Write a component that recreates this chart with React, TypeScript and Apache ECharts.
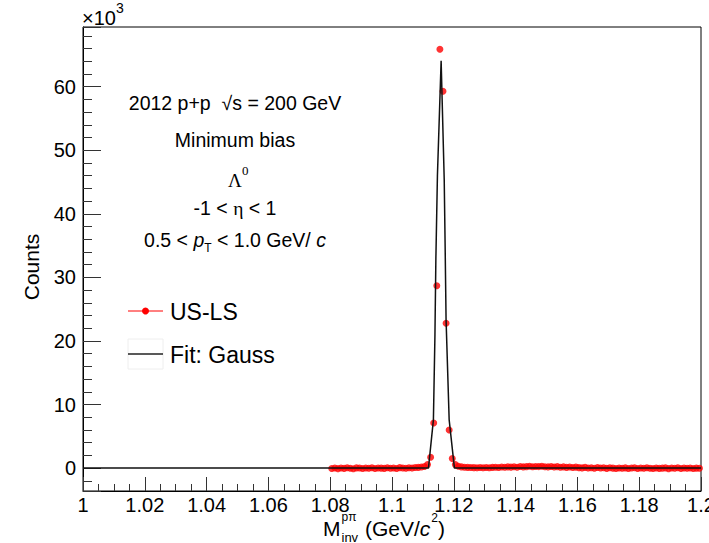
import React, { useEffect, useRef } from 'react';
import * as echarts from 'echarts';

// Histogram binning (US-LS invariant-mass spectrum)
const BIN_START = 1.08;
const BIN_WIDTH = 0.001;
// Counts per bin (120 bins from 1.080 to 1.200)
const usLsCounts: number[] = [
  -50, 30, -80, 20, -40, 60, -20, -90, 40, 10,
  -60, 30, -30, 50, -70, 20, 0, -40, 60, -20,
  30, -50, 80, 10, -30, 60, 20, 90, 120, 180,
  250, 550, 1700, 7100, 28700, 65900, 59300, 22800, 6000, 1500,
  550, 300, 200, 150, 120, 100, 80, 60, 90, 50,
  110, 70, 120, 150, 90, 180, 130, 200, 160, 220,
  140, 250, 190, 230, 280, 210, 260, 240, 300, 220,
  190, 260, 170, 230, 150, 200, 120, 180, 100, 160,
  80, 40, 120, 20, 60, -30, 90, 10, 50, -40,
  70, 0, -60, 30, -20, 40, -50, 10, 60, -70,
  20, -30, 50, -10, -60, 30, -40, 0, 40, -80,
  20, -20, 60, -50, 10, -30, 30, -60, 0, -20,
];

// Gauss fit curve vertices
const fitX: number[] = [1.0, 1.1118, 1.1134, 1.1139, 1.1142, 1.1147, 1.1159, 1.1169, 1.1172, 1.1175, 1.1185, 1.1202, 1.2];
const fitY: number[] = [0, 0, 7600, 21000, 33000, 46000, 64100, 45400, 34800, 23300, 7600, 0, 0];

const X_MIN = 1.0;
const X_MAX = 1.2;
const X_STEP = 0.02;
const Y_MIN = -3600;
const Y_MAX = 69400;

const seriesNames = ['US-LS', 'Fit: Gauss'];

const SANS = '"Liberation Sans", Arial, Helvetica, sans-serif';
const SERIF = '"Liberation Serif", "DejaVu Serif", serif';

type Piece = { t: string; size: number; dy?: number; italic?: boolean; family?: string; dx?: number };

let measureCtx: CanvasRenderingContext2D | null = null;
function measure(p: Piece): number {
  if (!measureCtx) measureCtx = document.createElement('canvas').getContext('2d');
  const ctx = measureCtx!;
  ctx.font = `${p.italic ? 'italic ' : ''}${p.size}px ${p.family || SANS}`;
  return ctx.measureText(p.t).width;
}

function runText(pieces: Piece[], x: number, y: number, align: 'center' | 'left') {
  const widths = pieces.map((p) => measure(p) + (p.dx || 0));
  const total = widths.reduce((a, b) => a + b, 0);
  let cx = align === 'center' ? x - total / 2 : x;
  const out: any[] = [];
  pieces.forEach((p, i) => {
    out.push({
      type: 'text',
      x: cx + (p.dx || 0),
      y: y + (p.dy || 0),
      silent: true,
      style: {
        text: p.t,
        fontSize: p.size,
        fontFamily: p.family || SANS,
        fontStyle: p.italic ? 'italic' : 'normal',
        fill: '#000',
        textAlign: 'left',
        textVerticalAlign: 'middle',
      },
    });
    cx += widths[i];
  });
  return out;
}

function xTitle(x0: number, y: number) {
  const m: Piece = { t: 'M', size: 21 };
  const sup: Piece = { t: 'pπ', size: 12 };
  const sub: Piece = { t: 'inv', size: 13 };
  const x1 = x0 + measure(m) + 1;
  const x2 = x1 + Math.max(measure(sup), measure(sub)) + 1;
  return [
    ...runText([m], x0, y, 'left'),
    ...runText([sup], x1, y - 11, 'left'),
    ...runText([sub], x1, y + 9, 'left'),
    ...runText([
      { t: ' (GeV/', size: 21 },
      { t: 'c', size: 21, italic: true },
      { t: '2', size: 12, dy: -10, dx: 1 },
      { t: ')', size: 21 },
    ], x2, y, 'left'),
  ];
}

export default function App() {
  const ref = useRef<HTMLDivElement>(null);
  useEffect(() => {
    if (!ref.current) return;
    const chart = echarts.init(ref.current, undefined, { renderer: 'svg' });
    const histData = usLsCounts.map((c, i) => [BIN_START + BIN_WIDTH * (i + 0.5), c]);
    const fitData = fitX.map((x, i) => [x, fitY[i]]);

    const graphics: any[] = [
      // ×10^3
      ...runText([{ t: '×10', size: 20 }, { t: '3', size: 14, dy: -10 }], 82, 18, 'left'),
      // Y title
      {
        type: 'text', x: 31, y: 267, rotation: Math.PI / 2, silent: true,
        style: { text: 'Counts', fontSize: 21, fontFamily: SANS, fill: '#000', textAlign: 'center', textVerticalAlign: 'middle' },
      },
      // X title
      ...xTitle(323, 528),
      // Info text box
      ...runText([{ t: '2012 p+p  √s = 200 GeV', size: 19.5 }], 235, 103, 'center'),
      ...runText([{ t: 'Minimum bias', size: 19.5 }], 235, 140, 'center'),
      ...runText([{ t: 'Λ', size: 19, family: SERIF }], 235, 180, 'center'),
      ...runText([{ t: '0', size: 13, family: SERIF }], 242, 170, 'left'),
      ...runText([{ t: '-1 < ', size: 19.5 }, { t: 'η', size: 19.5, family: SERIF }, { t: ' < 1', size: 19.5 }], 235, 208, 'center'),
      ...runText([
        { t: '0.5 < ', size: 19.5 },
        { t: 'p', size: 19.5, italic: true },
        { t: 'T', size: 12, dy: 8 },
        { t: ' < 1.0 GeV/ ', size: 19.5 },
        { t: 'c', size: 19.5, italic: true },
      ], 235, 240, 'center'),
      // Legend
      { type: 'line', silent: true, shape: { x1: 128, y1: 311, x2: 163, y2: 311 }, style: { stroke: '#ff0000', lineWidth: 1 } },
      { type: 'circle', silent: true, shape: { cx: 145.5, cy: 311, r: 3.5 }, style: { fill: '#ff0000' } },
      ...runText([{ t: seriesNames[0], size: 23 }], 170, 312, 'left'),
      { type: 'rect', silent: true, shape: { x: 128, y: 339, width: 35, height: 30 }, style: { fill: 'none', stroke: '#eeeeee', lineWidth: 1 } },
      { type: 'line', silent: true, shape: { x1: 128, y1: 354, x2: 163, y2: 354 }, style: { stroke: '#222', lineWidth: 1.5 } },
      ...runText([{ t: seriesNames[1], size: 23 }], 170, 355, 'left'),
    ];

    const tickStyle = { color: '#333', width: 1 };

    chart.setOption({
      animation: false,
      backgroundColor: '#fff',
      grid: {
        left: 83, right: 8, top: 27, bottom: 52, containLabel: false, outerBoundsMode: 'none',
        show: true, borderColor: '#000', borderWidth: 1, backgroundColor: 'transparent',
      },
      xAxis: {
        type: 'value', min: X_MIN, max: X_MAX, interval: X_STEP,
        axisLine: { onZero: false, lineStyle: { color: '#000', width: 1 } },
        axisTick: { inside: true, length: 14, lineStyle: tickStyle },
        minorTick: { show: true, splitNumber: 4, length: 7, lineStyle: tickStyle },
        splitLine: { show: false },
        axisLabel: { color: '#000', fontSize: 20, fontFamily: SANS, margin: 4 },
      },
      yAxis: [
        {
          type: 'value', min: Y_MIN, max: Y_MAX, splitNumber: 7, position: 'left',
          axisLine: { show: true, lineStyle: { color: '#000', width: 1 } },
          axisTick: { inside: true, length: 18, lineStyle: tickStyle },
          splitLine: { show: false },
          axisLabel: {
            color: '#000', fontSize: 20, fontFamily: SANS, margin: 7,
            formatter: (v: number) => (Math.abs(v % 10000) < 1e-6 ? String(Math.round(v / 1000)) : ''),
          },
        },
        {
          type: 'value', min: Y_MIN, max: Y_MAX, splitNumber: 36, position: 'left',
          axisLine: { show: false },
          axisTick: { inside: true, length: 9, lineStyle: tickStyle },
          splitLine: { show: false },
          axisLabel: { show: false },
        },
      ],
      series: [
        {
          name: seriesNames[0], type: 'scatter', data: histData, symbol: 'circle', symbolSize: 7,
          itemStyle: { color: '#ff0000' }, z: 2,
        },
        {
          name: seriesNames[1], type: 'line', data: fitData, showSymbol: false, symbol: 'none',
          lineStyle: { color: '#111', width: 1.5 }, z: 3,
        },
      ],
      graphic: graphics,
    });
    return () => chart.dispose();
  }, []);
  return <div ref={ref} style={{ position: 'fixed', left: 0, top: 0, width: 709, height: 543, background: '#fff' }} />;
}
